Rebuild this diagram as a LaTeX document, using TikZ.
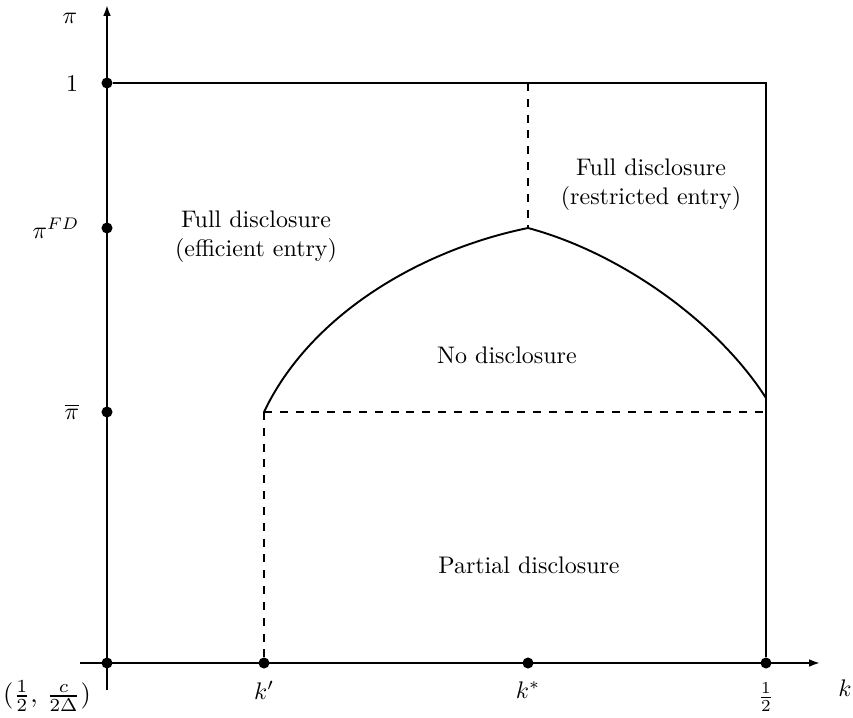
\documentclass[tikz,border=0pt]{standalone}
\usepackage{amsmath}
\usetikzlibrary{arrows.meta,positioning,calc}
\tikzset{
  axe/.style={-{Latex[length=4.5pt,width=3.2pt]}, line width=0.8pt},
  bord/.style={line width=0.8pt},
  tiret/.style={line width=0.8pt, dash pattern=on 3.3pt off 3.3pt},
  point/.style={circle, fill=black, inner sep=0pt, minimum size=4.6pt},
  zone/.style={align=center, font=\normalsize},
}

\begin{document}
\begin{tikzpicture}[x=0.417pt, y=-0.417pt]
    \useasboundingbox (0,0) rectangle (853,717);
    % axes
    \coordinate (ybas) at (107,690); \coordinate (yhaut) at (107,5);
    \coordinate (xg) at (80,663);    \coordinate (xd) at (820,663);
    \draw[axe] (ybas) -- (yhaut);
    \draw[axe] (xg) -- (xd);
    % points on the axes
    \node[point] (o) at (107,663) {};
    \node[point] (un) at (107,83) {};
    \node[point] (pfd) at (107,228) {};
    \node[point] (pbar) at (107,412) {};
    \node[point] (kp) at (264,663) {};
    \node[point] (ks) at (528,663) {};
    \node[point] (kd) at (766,663) {};
    % corners of the regions
    \coordinate (hd) at (766,83);
    \coordinate (hm) at (528,83);
    \coordinate (a) at (264,412);
    \coordinate (sommet) at (528,228);
    \coordinate (b) at (766,398);
    \coordinate (c) at (766,412);
    \draw[bord] (un) -- (hd) -- (kd);
    \draw[tiret] (hm) -- (sommet);
    \draw[tiret] (a) -- (c);
    \draw[tiret] (a) -- (kp);
    \draw[bord] (a) .. controls (310,315) and (420,250) .. (sommet)
                    .. controls (618,252) and (716,320) .. (b);
    % axis labels
    \node at (70,18) {$\pi$};
    \node at (72,84) {$1$};
    \node at (56,228) {$\pi^{FD}$};
    \node at (72,412) {$\overline{\pi}$};
    \node[scale=1.1] at (47,696) {$(\frac{1}{2},\,\frac{c}{2\Delta})$};
    \node at (264,690) {$k'$};
    \node at (528,690) {$k^{*}$};
    \node at (766,697) {$\frac{1}{2}$};
    \node at (845,688) {$k$};
    % regions
    \node[zone] (fde) at (256,237) {Full disclosure\\(efficient entry)};
    \node[zone] (fdr) at (651,185) {Full disclosure\\(restricted entry)};
    \node[zone] (nd) at (507,355) {No disclosure};
    \node[zone] (pd) at (529,565) {Partial disclosure};
  \end{tikzpicture}
\end{document}
